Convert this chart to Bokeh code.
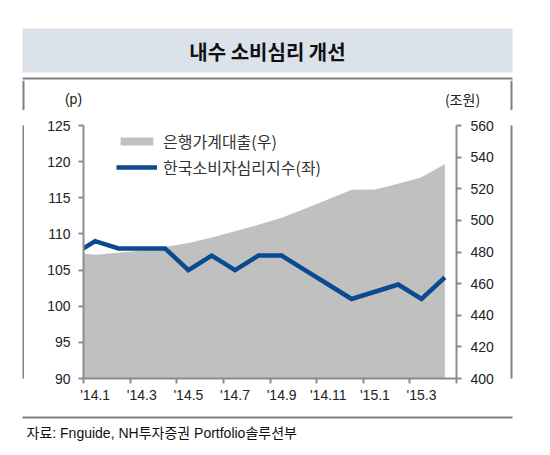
from bokeh.plotting import figure
from bokeh.layouts import column, row
from bokeh.models import (LinearAxis, Range1d, FixedTicker, Legend, LegendItem,
                          ColumnDataSource)
from bokeh.core.properties import value
from bokeh.embed import file_html
from bokeh.resources import INLINE

# ---- data ----
months = ["'13.12", "'14.1", "'14.2", "'14.3", "'14.4", "'14.5", "'14.6", "'14.7",
          "'14.8", "'14.9", "'14.10", "'14.11", "'14.12", "'15.1", "'15.2", "'15.3", "'15.4"]
csi = [107, 109, 108, 108, 108, 105, 107, 105, 107, 107, 105, 103, 101, 102, 103, 101, 104]
loans = [479.7, 478.2, 479.6, 481.0, 483.2, 485.7, 489.2, 493.1, 497.2, 501.6,
         507.4, 513.3, 519.3, 519.5, 523.1, 527.3, 535.6]
tick_labels = ["'14.1", "'14.3", "'14.5", "'14.7", "'14.9", "'14.11", "'15.1", "'15.3"]
left_ticks = [90, 95, 100, 105, 110, 115, 120, 125]
right_ticks = [400, 420, 440, 460, 480, 500, 520, 540, 560]

title_text = "내수 소비심리 개선"
loan_name = "은행가계대출(우)"
csi_name = "한국소비자심리지수(좌)"
left_unit = "(p)"
right_unit = "(조원)"
source_text = "자료: Fnguide, NH투자증권  Portfolio솔루션부"

# ---- styling ----
FONT = "Liberation Sans, Noto Sans CJK KR"
KFONT = "Noto Sans CJK KR"
AXIS_COLOR = "#8c8c8c"
BOX_COLOR = "#808080"
TEXT_COLOR = "#222222"
BANNER_COLOR = "#dbe2e9"

W = 520
BOX_L, BOX_R = 22, 512


def blank(width, height, xr, yr, **borders):
    f = figure(width=width, height=height, output_backend="svg", toolbar_location=None,
               x_range=xr, y_range=yr, x_axis_location=None, y_axis_location=None,
               min_border=0, **borders)
    f.xgrid.visible = False
    f.ygrid.visible = False
    f.outline_line_color = None
    f.background_fill_color = "white"
    f.border_fill_color = "white"
    return f


def edge_axis():
    ax = LinearAxis(ticker=FixedTicker(ticks=[]), bounds=(BOX_L, BOX_R))
    ax.axis_line_color = BOX_COLOR
    ax.axis_line_width = 2
    ax.major_tick_line_color = None
    ax.minor_tick_line_color = None
    ax.major_tick_out = 0
    ax.major_tick_in = 0
    ax.major_label_text_font_size = "0px"
    ax.major_label_standoff = 0
    return ax


# ---- header: banner + title, box top edge as an axis line (pixel coords, y down) ----
head = blank(W, 80, Range1d(0, W), Range1d(78, 0), min_border_bottom=2)
head.quad(left=[BOX_L], right=[BOX_R], top=[28], bottom=[72], fill_color=BANNER_COLOR,
          line_color=None)
head.text(x=[267], y=[51], text=[title_text], text_align="center", text_baseline="middle",
          text_font=value(KFONT), text_font_style="bold", text_font_size="20px",
          text_color="#111111")
head.add_layout(edge_axis(), "below")

# ---- unit labels band with box sides ----
units = blank(W, 30, Range1d(0, W), Range1d(110, 80))
units.quad(left=[BOX_L, BOX_R - 2], right=[BOX_L + 2, BOX_R], top=[80, 80], bottom=[110, 110],
           fill_color=BOX_COLOR, line_color=None)
units.text(x=[73], y=[98], text=[left_unit], text_align="center", text_baseline="middle",
           text_font=value(FONT), text_font_size="14px", text_color=TEXT_COLOR)
units.text(x=[462], y=[98], text=[right_unit], text_align="center", text_baseline="middle",
           text_font=value(KFONT), text_font_size="14px", text_color=TEXT_COLOR)

# ---- main chart ----
MAIN_H = 306
first = months.index("'14.1")
xs = [i - first for i in range(len(months))]
src = ColumnDataSource(dict(x=xs, csi=csi, loans=loans, base=[right_ticks[0]] * len(xs)))
label_pos = [months.index(t) - first for t in tick_labels]
bounds = [v - 0.5 for v in label_pos] + [xs[-1] + 0.5]

p = figure(width=486, height=MAIN_H, output_backend="svg", toolbar_location=None,
           x_range=Range1d(-0.5, xs[-1] + 0.5),
           y_range=Range1d(left_ticks[0], left_ticks[-1]),
           x_axis_location=None, y_axis_location=None,
           min_border_left=59, min_border_right=54, min_border_top=15, min_border_bottom=38)
p.extra_y_ranges = {"right": Range1d(right_ticks[0], right_ticks[-1])}
p.xgrid.visible = False
p.ygrid.visible = False
p.outline_line_color = None
p.background_fill_color = "white"
p.border_fill_color = "white"


def style_axis(ax, standoff):
    ax.axis_line_color = AXIS_COLOR
    ax.axis_line_width = 2
    ax.major_tick_line_color = AXIS_COLOR
    ax.major_tick_line_width = 2
    ax.major_tick_out = 5
    ax.major_tick_in = 0
    ax.minor_tick_line_color = None
    ax.major_label_text_font = FONT
    ax.major_label_text_font_size = "14px"
    ax.major_label_text_color = TEXT_COLOR
    ax.major_label_standoff = standoff


ly = LinearAxis(ticker=FixedTicker(ticks=left_ticks))
style_axis(ly, 8)
p.add_layout(ly, "left")

ry = LinearAxis(y_range_name="right", ticker=FixedTicker(ticks=right_ticks))
style_axis(ry, 9)
p.add_layout(ry, "right")

bx = LinearAxis(ticker=FixedTicker(ticks=bounds))
style_axis(bx, 0)
bx.major_label_text_font_size = "0px"
bx.major_label_overrides = {b: "" for b in bounds}
p.add_layout(bx, "below")

lx = LinearAxis(ticker=FixedTicker(ticks=label_pos))
style_axis(lx, 3)
lx.axis_line_color = None
lx.major_tick_line_color = None
lx.major_tick_out = 0
lx.major_label_overrides = {pos: t for pos, t in zip(label_pos, tick_labels)}
p.add_layout(lx, "below")

area = p.varea(x="x", y1="base", y2="loans", source=src, y_range_name="right",
               fill_color="#c0c0c0", fill_alpha=1)
line = p.line(x="x", y="csi", source=src, line_color="#0b4a8e", line_width=4.5,
              line_join="miter")

legend = Legend(items=[LegendItem(label=loan_name, renderers=[area]),
                       LegendItem(label=csi_name, renderers=[line])],
                location=(33, 199), orientation="vertical",
                glyph_width=41, glyph_height=10, label_height=20, spacing=2,
                label_standoff=6, padding=0, margin=0,
                border_line_color=None, background_fill_alpha=0,
                label_text_font=KFONT, label_text_font_size="16px",
                label_text_color="#333333")
p.add_layout(legend)

# ---- side strips of the box ----
lstrip = blank(24, MAIN_H, Range1d(0, 1), Range1d(0, 1), min_border_left=22)
lstrip.background_fill_color = BOX_COLOR
rstrip = blank(10, MAIN_H, Range1d(0, 1), Range1d(0, 1), min_border_right=8)
rstrip.background_fill_color = BOX_COLOR

# ---- footer: box bottom edge as an axis line + source line (pixel coords, y down) ----
foot = blank(W, 34, Range1d(0, W), Range1d(450, 417), min_border_top=1)
foot.add_layout(edge_axis(), "above")
foot.text(x=[26], y=[432], text=[source_text], text_align="left", text_baseline="middle",
          text_font=value(FONT), text_font_size="14px", text_color="#111111")

layout = column(head, units, row(lstrip, p, rstrip), foot)

open("out.html", "w").write(file_html(layout, INLINE))
